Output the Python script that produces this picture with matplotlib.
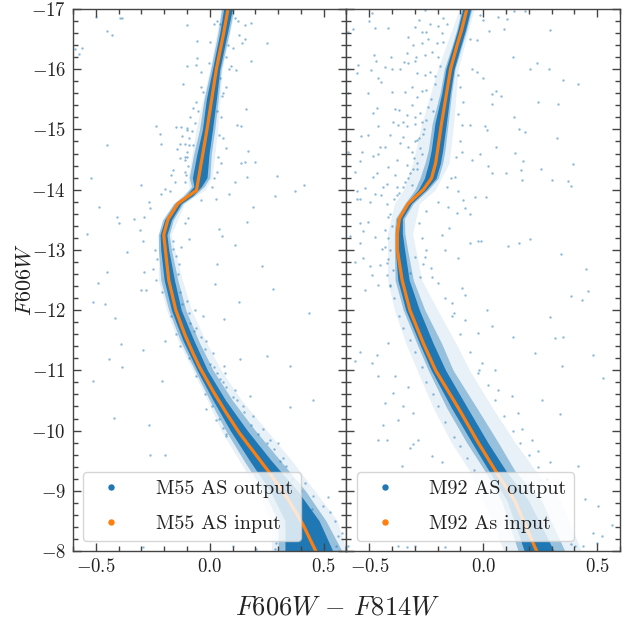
import matplotlib
matplotlib.use("Agg")
import matplotlib.pyplot as plt
from matplotlib.lines import Line2D
from matplotlib.ticker import MultipleLocator

plt.rcParams["font.family"] = "serif"
plt.rcParams["font.serif"] = ["cmr10"]
plt.rcParams["mathtext.fontset"] = "cm"
plt.rcParams["axes.formatter.use_mathtext"] = True
plt.rcParams["axes.unicode_minus"] = False

BLUE = "#1f77b4"
ORANGE = "#ff7f0e"
INK = "#444444"

# ── input isochrones ─────────────────────────────────────────
m55_input_y = [-17, -16.6, -16, -15, -13.99, -13.77, -13.51, -13.25, -12.5, -12, -11.6, -11.28,
               -11.05, -10.65, -10.29, -9.96, -9.66, -9.33, -8.86, -8.44, -8]
m55_input_x = [0.08, 0.061, 0.029, -0.012, -0.058, -0.139, -0.183, -0.202, -0.18, -0.149, -0.11, -0.073,
               -0.044, 0.015, 0.073, 0.13, 0.19, 0.256, 0.344, 0.409, 0.465]

m92_input_y = [-17, -16.65, -16.37, -16.01, -15.6, -15.1, -14.66, -14.44, -14.19, -14, -13.77, -13.52,
               -13.27, -13, -12.5, -12, -11.45, -11, -10.38, -9.8, -9.33, -8.83, -8]
m92_input_x = [-0.072, -0.095, -0.117, -0.143, -0.161, -0.183, -0.2, -0.209, -0.227, -0.263, -0.329, -0.368,
               -0.377, -0.377, -0.356, -0.322, -0.263, -0.209, -0.11, -0.022, 0.054, 0.139, 0.234]

# ── dense part of the output cloud: edges at each magnitude ──
m55_core_y = [-17, -16.6, -16, -15.5, -15, -14.6, -14.2, -14.05, -13.9, -13.77, -13.5, -13.25, -13, -12.5,
              -12, -11.5, -11, -10.5, -10, -9.5, -9, -8.5, -8]
m55_core_l = [0.061, 0.044, 0.012, -0.015, -0.032, -0.056, -0.076, -0.07, -0.105, -0.15, -0.198, -0.218, -0.215, -0.2,
              -0.168, -0.118, -0.055, 0.015, 0.09, 0.175, 0.265, 0.33, 0.33]
m55_core_r = [0.099, 0.077, 0.044, 0.029, 0.012, -0.003, -0.012, -0.037, -0.075, -0.125, -0.168, -0.188, -0.18, -0.155,
              -0.125, -0.07, -0.01, 0.07, 0.165, 0.27, 0.385, 0.48, 0.54]
m55_mid_l = [0.052, 0.036, 0.004, -0.025, -0.045, -0.07, -0.09, -0.08, -0.115, -0.158, -0.207, -0.226, -0.225, -0.215,
             -0.18, -0.13, -0.065, 0, 0.07, 0.15, 0.235, 0.3, 0.3]
m55_mid_r = [0.105, 0.085, 0.05, 0.037, 0.022, 0.007, 0, -0.025, -0.068, -0.117, -0.16, -0.178, -0.168, -0.14,
             -0.105, -0.05, 0.015, 0.1, 0.2, 0.31, 0.42, 0.51, 0.58]

m55_halo_y = [-17, -16, -15, -14.2, -14, -13.77, -13.25, -12.5, -12, -11.5, -11, -10.5, -10, -9.5, -9, -8.5, -8]
m55_halo_l = [0.05, 0, -0.06, -0.095, -0.09, -0.16, -0.225, -0.225, -0.19, -0.14, -0.075, -0.01, 0.05, 0.13, 0.21, 0.27, 0.27]
m55_halo_r = [0.11, 0.055, 0.035, 0.01, -0.02, -0.11, -0.17, -0.12, -0.08, -0.02, 0.05, 0.14, 0.25, 0.36, 0.46, 0.56, 0.6]

m92_core_y = [-17, -16.65, -16.37, -16, -15.6, -15.1, -14.66, -14.44, -14.19, -14, -13.77, -13.52, -13.27, -13, -12.5,
              -12, -11.45, -11, -10.38, -9.8, -9.33, -8.83, -8]
m92_core_l = [-0.09, -0.112, -0.134, -0.164, -0.182, -0.212, -0.228, -0.24, -0.258, -0.285, -0.338, -0.378, -0.385, -0.385, -0.375,
              -0.34, -0.28, -0.228, -0.14, -0.05, 0.025, 0.105, 0.18]
m92_core_r = [-0.055, -0.078, -0.1, -0.128, -0.145, -0.162, -0.178, -0.188, -0.207, -0.25, -0.315, -0.355, -0.355, -0.345, -0.325,
              -0.28, -0.22, -0.165, -0.07, 0.02, 0.1, 0.2, 0.31]
m92_mid_l = [-0.095, -0.117, -0.139, -0.171, -0.19, -0.224, -0.241, -0.256, -0.278, -0.3, -0.344, -0.385, -0.39, -0.39, -0.387,
             -0.351, -0.292, -0.241, -0.161, -0.073, 0.007, 0.08, 0.153]
m92_mid_r = [-0.05, -0.073, -0.095, -0.124, -0.139, -0.154, -0.168, -0.178, -0.197, -0.241, -0.307, -0.346, -0.344, -0.332, -0.307,
             -0.256, -0.183, -0.132, -0.029, 0.066, 0.139, 0.256, 0.358]

m92_halo_y = [-17, -16, -15.1, -14.44, -14, -13.77, -13.27, -12.5, -12, -11.45, -11, -10.38, -9.8, -9.33, -8.83, -8]
m92_halo_l = [-0.105, -0.2, -0.27, -0.31, -0.35, -0.39, -0.42, -0.42, -0.39, -0.34, -0.29, -0.22, -0.14, -0.06, 0, 0.09]
m92_halo_r = [-0.04, -0.11, -0.13, -0.15, -0.21, -0.28, -0.31, -0.27, -0.2, -0.12, -0.06, 0.04, 0.14, 0.23, 0.34, 0.43]

# ── sparse stars around the sequences (colour, magnitude) ────
m55_stars = [
    (-.5,-16.86),(-.395,-16.85),(-.385,-16.85),(-.449,-16.64),(-.428,-16.57),(-.592,-16.34),(-.56,-16.36),(-.573,-16.25),
    (-.102,-16.73),(-.054,-16.47),(-.056,-16.18),(-.102,-16.06),(-.061,-16.07),(-.037,-15.96),(-.117,-15.75),(.124,-16.8),
    (.183,-16.76),(.154,-16.73),(.129,-16.57),(.156,-16.5),(.142,-16.43),(.253,-16.44),(.102,-16.35),(.18,-16.13),
    (.095,-16.06),(.113,-15.98),(.161,-15.34),(.121,-15.07),(.136,-15.06),(-.238,-15.05),(-.219,-14.93),(-.146,-15.04),
    (-.127,-15.04),(-.099,-15.03),(-.099,-14.99),(-.121,-14.89),(-.453,-14.75),(-.216,-14.76),(-.132,-14.76),(-.11,-14.76),
    (-.091,-14.74),(-.142,-14.67),(-.102,-14.63),(-.11,-14.55),(-.132,-14.52),(-.11,-14.49),(.17,-14.65),(.139,-14.45),
    (.156,-14.46),(.197,-14.46),(.164,-14.21),(.295,-14.23),(.11,-14.12),(.414,-14.07),(.373,-13.98),(.288,-13.89),
    (.085,-13.92),(.026,-13.84),(-.037,-13.83),(-.523,-14.19),(-.303,-14.07),(-.197,-14.01),(-.216,-13.92),(-.175,-13.97),
    (-.161,-14.33),(-.168,-14.24),(-.154,-14.13),(-.11,-14.13),(-.266,-13.8),(-.263,-13.7),(-.487,-13.71),(.19,-13.71),
    (.165,-13.47),(-.409,-13.55),(-.4,-13.44),(-.332,-13.51),(-.288,-13.55),(-.307,-13.33),(-.292,-13.15),(-.365,-12.97),
    (-.538,-13.26),(.041,-13.35),(.054,-13.23),(.11,-13.08),(-.092,-13.18),(-.095,-13.53),(-.11,-13.44),(.032,-12.76),
    (.23,-12.73),(-.45,-12.63),(-.289,-12.63),(-.249,-12.69),(-.135,-12.77),(-.161,-13.02),(-.124,-13.05),
    (-.512,-12.14),(-.46,-12.1),(-.49,-12.45),(-.3,-12.34),(-.278,-12.34),(.022,-12.44),(.278,-12.35),(.129,-12.14),
    (.061,-11.85),(.434,-11.95),(-.417,-11.87),(-.197,-11.49),(-.39,-11.43),(-.295,-11.34),(-.443,-11.18),(-.385,-11.06),
    (-.512,-10.82),(-.209,-10.83),(.249,-11.23),(.132,-11.18),(.351,-11.08),(.453,-10.51),(.351,-10.39),(-.421,-10.21),
    (-.266,-10.09),(.063,-11.07),(.066,-10.96),(.073,-10.73),(.11,-10.68),(.175,-10.57),(.146,-10.4),(.19,-10.24),
    (.234,-10.02),(.263,-9.85),(.3,-9.8),(.322,-9.55),(.336,-9.41),(-.029,-11.9),(-.066,-12.0),(-.088,-11.78),
    (.015,-11.29),(-.015,-11.49),(.044,-10.85),(.029,-10.18),(.058,-10.04),(-.015,-10.35),(-.263,-9.6),(-.197,-9.6),
    (.073,-9.91),(.322,-9.19),(.497,-8.75),(.526,-8.64),(.453,-8.92),(.417,-9.13),(.563,-8.25),(.556,-8.08),
    (.205,-8.03),(.285,-8.03),(-.292,-8.06),(.102,-8.08),(.292,-8.14),
    (-.04,-15.7),(-.03,-15.62),(-.06,-15.45),(-.075,-15.35),(-.05,-15.3),(-.085,-15.2),(-.065,-15.1),(-.08,-14.98),
    (-.09,-14.85),(-.075,-14.75),(-.1,-14.55),(-.095,-14.4),(-.11,-14.3),(-.105,-14.25),(.03,-15.3),(.05,-15.2),
    (.06,-15.6),(.055,-15.55),(.07,-15.7),(.04,-14.9),(.06,-14.85),(.07,-14.7),(.035,-14.55),(.05,-14.45),
    (.03,-14.3),(.02,-14.2),(.01,-14.05),(.08,-16.4),(.07,-16.2),(.085,-16.0),(.045,-15.85),(.11,-16.85),
    (.03,-16.8),(.02,-16.75),(.045,-16.75),(0,-16.45),(-.005,-16.1),(-.24,-13),(-.23,-12.85),(-.15,-12.9),
    (-.14,-12.6),(-.16,-13.15),(-.235,-12.5),(-.21,-12.3),(-.13,-12.3),(-.12,-12.1),(-.1,-12.15),(-.09,-11.95),
    (-.07,-11.65),(-.06,-11.7),(-.04,-11.55),(-.02,-11.35),(0,-11.1),(.02,-11.05),(.03,-10.95),(.06,-10.8),
    (.1,-10.55),(.12,-10.5),(.15,-10.3),(.18,-10.1),(.21,-9.95),(.25,-9.8),(.28,-9.7),(.31,-9.5),
    (.34,-9.3),(.36,-9.2),(.4,-9.0),(.45,-8.7),(.55,-8.5),(.58,-8.3),(.52,-8.9),(-.17,-11.9),
    (-.15,-11.6),(-.13,-11.4),(-.09,-11.2),(-.06,-10.9),(-.02,-10.6),(.01,-10.4),(.04,-10.2),(.07,-9.95),
]

m92_stars = [
    (-.501,-16.8),(-.49,-16.93),(-.417,-16.68),(-.475,-16.68),(-.57,-16.66),(-.592,-16.62),(-.282,-16.82),(-.256,-16.98),
    (-.234,-16.75),(-.175,-16.85),(-.197,-16.71),(-.27,-16.62),(-.251,-16.61),(-.241,-16.51),(-.329,-16.54),(-.307,-16.4),
    (-.267,-16.43),(-.205,-16.43),(-.175,-16.46),(-.478,-16.24),(-.406,-16.2),(-.336,-16.27),(-.297,-16.21),(-.256,-16.24),
    (-.227,-16.29),(-.472,-16.14),(-.348,-16.12),(-.329,-16.11),(-.3,-16.14),(-.551,-16.07),(-.556,-15.93),(-.592,-16.0),
    (-.431,-16.04),(-.402,-16.01),(-.365,-16.0),(-.493,-15.98),(-.461,-15.85),(-.449,-15.79),(-.292,-15.93),(-.256,-15.9),
    (-.234,-15.96),(-.212,-15.88),(-.051,-16.0),(-.026,-15.96),(0,-15.86),(.205,-16.01),(.288,-16.0),(.238,-16.11),
    (.132,-16.2),(-.029,-16.48),(-.058,-16.5),(0,-16.82),(-.015,-16.9),(.063,-16.86),(.104,-16.84),(.136,-16.97),
    (.183,-16.96),(.089,-16.66),(.026,-16.64),(.295,-16.65),(.351,-15.82),(.417,-15.75),(.054,-15.64),(.037,-15.59),
    (.077,-15.56),(.241,-15.46),(.329,-15.42),(.039,-15.42),(-.595,-15.61),(-.507,-15.61),(-.402,-15.63),(-.314,-15.7),
    (-.344,-15.63),(-.292,-15.54),(-.27,-15.64),(-.314,-15.41),(-.241,-15.37),(-.249,-15.65),(-.465,-15.36),(-.482,-15.28),
    (-.387,-15.34),(-.368,-15.32),(-.336,-15.24),(-.278,-15.27),(-.3,-15.21),(-.395,-15.13),(-.351,-15.13),(-.46,-15.05),
    (-.373,-15.07),(-.336,-15.05),(-.3,-15.09),(-.27,-15.13),(-.538,-14.89),(-.507,-14.91),(-.409,-14.91),(-.351,-14.88),
    (-.263,-14.93),(-.292,-14.82),(-.453,-14.71),(-.431,-14.71),(-.365,-14.77),(-.329,-14.71),(-.595,-14.63),(-.531,-14.62),
    (-.461,-14.59),(-.482,-14.56),(-.314,-14.62),(-.278,-14.69),(-.541,-14.48),(-.38,-14.49),(-.304,-14.52),(-.336,-14.41),
    (-.417,-14.38),(-.387,-14.24),(-.468,-14.28),(-.563,-14.29),(-.482,-14.21),(-.292,-14.35),(-.322,-14.27),(-.38,-14.05),
    (-.424,-14.1),(-.439,-14.04),(-.344,-14.13),(-.314,-14.08),(-.519,-14.02),(-.556,-13.97),(-.475,-13.92),(-.449,-13.91),
    (-.38,-13.91),(-.556,-13.85),(-.541,-13.84),(-.497,-13.8),(-.424,-13.76),(-.095,-15.07),(-.058,-15.07),(.007,-15.05),
    (.015,-14.99),(.136,-15.21),(.158,-15),(.183,-14.95),(.322,-14.86),(.058,-14.71),(-.092,-14.63),(-.015,-14.59),
    (-.048,-14.49),(.022,-14.39),(.139,-14.61),(.175,-14.48),(.253,-14.34),(.392,-14.43),(.102,-14.27),(.039,-14.27),
    (.164,-14.33),(.3,-14.16),(.37,-14.15),(.385,-14.06),(.168,-14.16),(-.124,-14.21),(-.11,-13.97),(-.037,-13.87),
    (.012,-13.87),(-.088,-13.83),(-.154,-13.71),(-.117,-13.62),(-.08,-13.69),(-.058,-13.59),(-.151,-13.37),(-.183,-13.25),
    (-.022,-13.15),(-.01,-13.15),(-.058,-13.11),(.11,-13.07),(.156,-13.11),(.206,-13.18),(.341,-12.94),(.453,-12.69),
    (-.112,-12.86),(-.227,-12.55),(-.168,-13.0),(-.256,-12.89),(-.541,-13.44),(-.507,-13.47),(-.526,-13.31),(-.585,-13.23),
    (-.541,-13.12),(-.475,-13.22),(-.431,-13.33),(-.417,-13.55),(-.446,-13.01),(-.526,-12.86),(-.563,-12.8),(-.497,-12.74),
    (-.49,-12.58),(-.431,-13.05),(-.424,-12.78),(-.453,-12.75),(-.424,-12.58),(-.395,-12.66),(-.3,-12.89),(-.263,-12.77),
    (-.322,-12.62),(-.278,-12.55),(-.519,-12.34),(-.461,-12.42),(-.409,-12.42),(.387,-12.24),(.461,-12.31),(.434,-12.17),
    (.292,-11.88),(-.095,-12.36),(-.139,-12.12),(-.08,-12.25),(.015,-12.0),(-.022,-11.62),(-.08,-11.84),(.037,-11.73),
    (-.139,-11.9),(.132,-11.56),(.314,-11.54),(.351,-11.56),(-.541,-11.31),(-.563,-11.16),(-.468,-11.26),(.482,-11.26),
    (-.487,-11.12),(-.417,-11.45),(.344,-11.07),(.526,-10.88),(.051,-11.01),(.227,-11.29),(-.007,-11.12),(-.022,-10.96),
    (-.387,-10.9),(-.461,-10.9),(-.329,-10.73),(-.395,-10.62),(-.351,-10.4),(-.431,-10.46),(-.439,-10.1),(-.373,-10.18),
    (-.307,-10.29),(-.322,-9.71),(-.285,-9.85),(-.307,-9.77),(-.183,-9.48),(-.358,-9.41),(-.227,-9.57),(-.461,-9.85),
    (-.424,-9.85),(.124,-10.57),(.066,-10.68),(.154,-10.29),(.256,-10.51),(.336,-10.27),(.168,-10.02),(.212,-9.85),
    (.241,-9.66),(.292,-9.48),(.417,-9.41),(.504,-8.75),(.563,-8.44),(.519,-8.25),(.482,-8.3),(.446,-8.86),
    (.497,-8.14),(.439,-8.08),(.402,-8.08),(.387,-8.11),(-.585,-8.8),(-.592,-8.08),(-.373,-8.08),(-.336,-8.06),
    (-.3,-8.08),(-.168,-8.06),
    (-.3,-16.7),(-.18,-16.6),(-.16,-16.75),(-.2,-16.2),(-.19,-16.05),(-.21,-15.75),(-.23,-15.5),(-.22,-15.3),
    (-.25,-15.15),(-.26,-15.0),(-.28,-14.85),(-.3,-14.8),(-.27,-14.6),(-.29,-14.45),(-.31,-14.35),(-.33,-14.2),
    (-.35,-14.05),(-.37,-13.95),(-.39,-13.85),(-.41,-13.6),(-.4,-13.4),(-.42,-13.2),(-.41,-13.0),(-.42,-12.85),
    (-.41,-12.4),(-.39,-12.2),(-.37,-11.9),(-.35,-11.7),(-.32,-11.5),(-.3,-11.3),(-.27,-11.05),(-.25,-10.8),
    (-.22,-10.6),(-.2,-10.4),(-.17,-10.15),(-.13,-9.9),(-.1,-9.75),(-.07,-9.55),(-.04,-9.35),(-.11,-15.9),
    (-.1,-15.7),(-.09,-15.45),(-.11,-15.25),(-.1,-14.8),(-.12,-14.55),(-.14,-14.2),(-.16,-14.05),(-.2,-13.8),
    (-.25,-13.65),(-.28,-13.45),(-.27,-13.2),(-.25,-13.0),(-.23,-12.7),(-.2,-12.45),(-.17,-12.2),(-.13,-11.95),
    (-.1,-11.6),(-.06,-11.3),(-.02,-11.0),(.02,-10.75),(.05,-10.5),(.09,-10.25),(.13,-10.0),(.16,-9.8),
    (.2,-9.6),(.24,-9.4),(.28,-9.2),
]

x_ticks = [-0.5, 0.0, 0.5]
y_ticks = [-17, -16, -15, -14, -13, -12, -11, -10, -9, -8]

panels = [
    ("M55 AS output", "M55 AS input", m55_input_x, m55_input_y, m55_stars, m55_core_y, m55_core_l, m55_core_r,
     m55_mid_l, m55_mid_r, m55_halo_y, m55_halo_l, m55_halo_r),
    ("M92 AS output", "M92 As input", m92_input_x, m92_input_y, m92_stars, m92_core_y, m92_core_l, m92_core_r,
     m92_mid_l, m92_mid_r, m92_halo_y, m92_halo_l, m92_halo_r),
]

fig, axes = plt.subplots(1, 2, figsize=(6.3, 6.22), dpi=100, sharey=True)
fig.subplots_adjust(left=73/630, right=620/630, top=1-9/622, bottom=1-551/622, wspace=0)

for ax, p in zip(axes, panels):
    out_label, in_label, in_x, in_y, stars, core_y, core_l, core_r, mid_l, mid_r, halo_y, halo_l, halo_r = p

    ax.fill_betweenx(halo_y, halo_l, halo_r, color=BLUE, alpha=0.1, lw=0)
    ax.fill_betweenx(core_y, mid_l, mid_r, color=BLUE, alpha=0.4, lw=0)
    ax.fill_betweenx(core_y, core_l, core_r, color=BLUE, lw=0)
    ax.scatter([s[0] for s in stars], [s[1] for s in stars], s=3, color=BLUE, alpha=0.5, lw=0)
    ax.plot(in_x, in_y, color=ORANGE, lw=2.3)

    ax.set_xlim(-0.6, 0.6)
    ax.set_ylim(-8, -17)
    ax.set_xticks(x_ticks)
    ax.set_yticks(y_ticks)
    ax.xaxis.set_minor_locator(MultipleLocator(0.1))
    ax.yaxis.set_minor_locator(MultipleLocator(0.2))
    ax.tick_params(which="both", direction="in", top=True, right=True, color=INK, width=1.0)
    ax.tick_params(which="major", length=6, labelsize=13.5, labelcolor="#222222", pad=5)
    ax.tick_params(which="minor", length=3.5)
    for s in ax.spines.values():
        s.set_color(INK)
        s.set_linewidth(1.0)

    handles = [
        Line2D([], [], ls="", marker="o", ms=3.6, color=BLUE, label=out_label),
        Line2D([], [], ls="", marker="o", ms=3.6, color=ORANGE, label=in_label),
    ]
    leg = ax.legend(handles=handles, loc="lower left", fontsize=14.5, handletextpad=1.2,
                    labelspacing=0.85, framealpha=0.8)
    for t in leg.get_texts():
        t.set_color("#222222")

fig.text(25/630, 1-280/622, r"$F606W$", fontsize=16, rotation=90, ha="center", va="center", color="#222222")
fig.text(338/630, 1-608/622, r"$F606W\,-\,F814W$", fontsize=19, ha="center", va="center", color="#222222")

fig.savefig("out.png", dpi=100)
